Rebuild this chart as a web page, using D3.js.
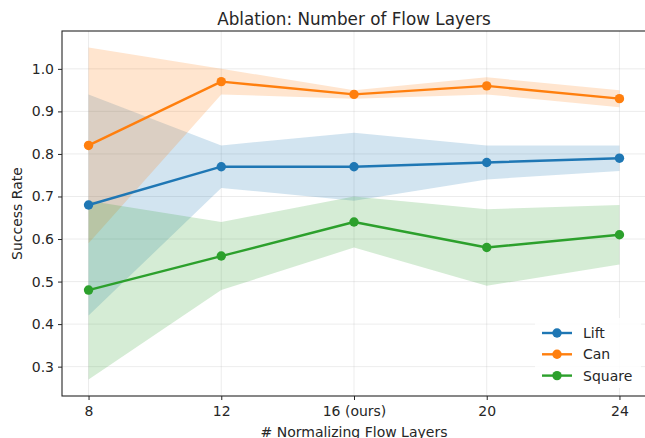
<!DOCTYPE html>
<html><head><meta charset="utf-8">
<script src="https://cdn.jsdelivr.net/npm/d3@7"></script>
<style>body{margin:0;background:#fff}svg{display:block;font-family:"DejaVu Sans",sans-serif}</style>
</head><body><svg id="c" width="645" height="438"></svg>
<script>
const layers = [8, 12, 16, 20, 24];
const tickLabels = ["8", "12", "16 (ours)", "20", "24"];
const seriesNames = ["Lift", "Can", "Square"];
const colors = ["#1f77b4", "#ff7f0e", "#2ca02c"];
const liftMean = [0.68, 0.77, 0.77, 0.78, 0.79];
const liftLow  = [0.42, 0.72, 0.69, 0.74, 0.76];
const liftHigh = [0.94, 0.82, 0.85, 0.82, 0.82];
const canMean = [0.82, 0.97, 0.94, 0.96, 0.93];
const canLow  = [0.59, 0.94, 0.93, 0.94, 0.91];
const canHigh = [1.05, 1.00, 0.95, 0.98, 0.95];
const squareMean = [0.48, 0.56, 0.64, 0.58, 0.61];
const squareLow  = [0.27, 0.48, 0.58, 0.49, 0.54];
const squareHigh = [0.69, 0.64, 0.70, 0.67, 0.68];
const yTicks = [0.3, 0.4, 0.5, 0.6, 0.7, 0.8, 0.9, 1.0];

const series = [
  {name: seriesNames[0], mean: liftMean, low: liftLow, high: liftHigh, color: colors[0]},
  {name: seriesNames[1], mean: canMean, low: canLow, high: canHigh, color: colors[1]},
  {name: seriesNames[2], mean: squareMean, low: squareLow, high: squareHigh, color: colors[2]}
];

const svg = d3.select("#c");
const L = 62, R = 646, T = 31, B = 396;
const FS = 14;
const x = d3.scaleLinear().domain([7.2, 24.8]).range([L, R]);
const y = d3.scaleLinear().domain([0.2310, 1.0890]).range([B, T]);

// grid
const g = svg.append("g");
g.selectAll(".gx").data(layers).enter().append("line")
  .attr("x1", d => x(d)).attr("x2", d => x(d)).attr("y1", T).attr("y2", B)
  .attr("stroke", "#b0b0b0").attr("stroke-opacity", 0.3).attr("stroke-width", 0.8);
g.selectAll(".gy").data(yTicks).enter().append("line")
  .attr("x1", L).attr("x2", R).attr("y1", d => y(d)).attr("y2", d => y(d))
  .attr("stroke", "#b0b0b0").attr("stroke-opacity", 0.3).attr("stroke-width", 0.8);

svg.append("clipPath").attr("id", "clp").append("rect")
  .attr("x", L).attr("y", T).attr("width", R - L).attr("height", B - T);
const plot = svg.append("g").attr("clip-path", "url(#clp)");

// bands
series.forEach(s => {
  const area = d3.area().x((d, i) => x(layers[i])).y0((d, i) => y(s.low[i])).y1((d, i) => y(s.high[i]));
  plot.append("path").datum(s.mean).attr("d", area).attr("fill", s.color).attr("fill-opacity", 0.2);
});
// lines
series.forEach(s => {
  const line = d3.line().x((d, i) => x(layers[i])).y(d => y(d));
  plot.append("path").datum(s.mean).attr("d", line).attr("fill", "none")
    .attr("stroke", s.color).attr("stroke-width", 2.4).attr("stroke-linejoin", "round");
  plot.selectAll(null).data(s.mean).enter().append("circle")
    .attr("cx", (d, i) => x(layers[i])).attr("cy", d => y(d)).attr("r", 4.7).attr("fill", s.color);
});

// axes
const xAxis = d3.axisBottom(x).tickValues(layers).tickFormat((d, i) => tickLabels[i]).tickSize(4).tickPadding(6.5);
const xa = svg.append("g").attr("transform", `translate(0,${B})`).call(xAxis);
const yAxis = d3.axisLeft(y).tickValues(yTicks).tickFormat(d3.format(".1f")).tickSize(4).tickPadding(4);
const ya = svg.append("g").attr("transform", `translate(${L},0)`).call(yAxis);
[xa, ya].forEach(a => {
  a.attr("font-size", FS).attr("font-family", "DejaVu Sans");
  a.select(".domain").remove();
  a.selectAll("text").attr("font-size", FS).attr("fill", "#262626");
  a.selectAll("line").attr("stroke", "#262626").attr("stroke-width", 1);
});
// spines
svg.append("rect").attr("x", L).attr("y", T).attr("width", R - L).attr("height", B - T)
  .attr("fill", "none").attr("stroke", "#262626").attr("stroke-width", 1.1);

// legend
const lg = svg.append("g");
lg.append("rect").attr("x", 535).attr("y", 318).attr("width", 106).attr("height", 70)
  .attr("fill", "#fff").attr("fill-opacity", 0.85).attr("rx", 3);
series.forEach((s, i) => {
  const yy = 333 + i * 21.3;
  lg.append("line").attr("x1", 542).attr("x2", 572).attr("y1", yy).attr("y2", yy)
    .attr("stroke", s.color).attr("stroke-width", 2.4);
  lg.append("circle").attr("cx", 557).attr("cy", yy).attr("r", 4.7).attr("fill", s.color);
  lg.append("text").attr("x", 583).attr("y", yy + 5).attr("font-size", FS).attr("fill", "#262626").text(s.name);
});

// titles
svg.append("text").attr("x", (L + R) / 2).attr("y", 25).attr("text-anchor", "middle")
  .attr("font-size", 16.8).attr("fill", "#262626").text("Ablation: Number of Flow Layers");
svg.append("text").attr("x", (L + R) / 2).attr("y", 436.5).attr("text-anchor", "middle")
  .attr("font-size", FS).attr("fill", "#262626").text("# Normalizing Flow Layers");
svg.append("text").attr("transform", `translate(21.5,${(T + B) / 2}) rotate(-90)`).attr("text-anchor", "middle")
  .attr("font-size", FS).attr("fill", "#262626").text("Success Rate");
</script></body></html>
